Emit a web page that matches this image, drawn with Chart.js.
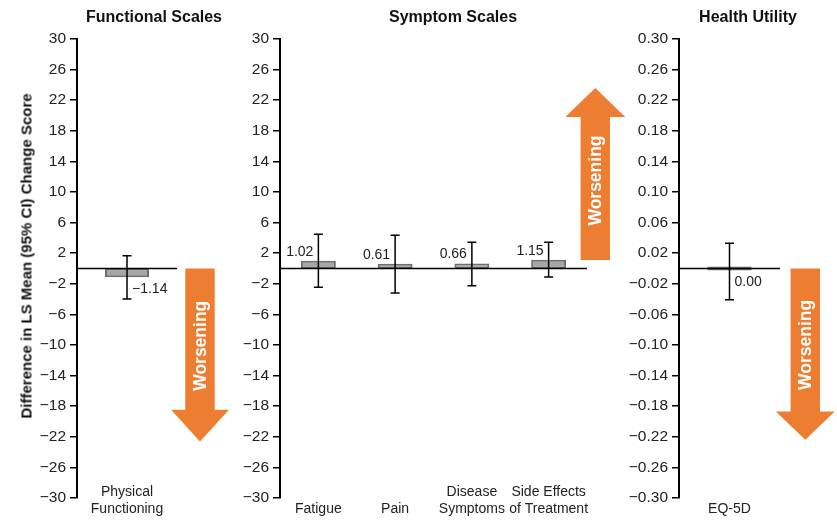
<!DOCTYPE html>
<html>
<head>
<meta charset="utf-8">
<script src="https://cdn.jsdelivr.net/npm/chart.js@4/dist/chart.umd.min.js"></script>
<style>
  html, body { margin: 0; padding: 0; background: #fff; }
  #wrap { position: relative; width: 837px; height: 521px; overflow: hidden;
          font-family: "Liberation Sans", Arial, sans-serif; color: #111; }
  #wrap canvas { position: absolute; top: 0; }
  .panel-title { position: absolute; top: 7px; line-height: 20px; font-size: 16px; font-weight: bold;
                 white-space: nowrap; transform: translateX(-50%); }
  .y-title { position: absolute; left: 26px; top: 256px; font-size: 15px; font-weight: bold;
             white-space: nowrap; transform: translate(-50%, -50%) rotate(-90deg); }
</style>
</head>
<body>
<div id="wrap">
  <canvas id="functional" width="237" height="521" style="left:0px"></canvas>
  <canvas id="symptom" width="396" height="521" style="left:232px"></canvas>
  <canvas id="utility" width="215" height="521" style="left:622px"></canvas>
  <div class="panel-title" style="left:154px">Functional Scales</div>
  <div class="panel-title" style="left:453px">Symptom Scales</div>
  <div class="panel-title" style="left:748px">Health Utility</div>
  <div class="y-title">Difference in LS Mean (95% CI) Change Score</div>
</div>
<script>
// Functional scales
const functionalLabels = [['Physical', 'Functioning']];
const functionalValues = [-1.14];
const functionalLower = [-3.98];
const functionalUpper = [1.67];

// Symptom scales
const symptomLabels = [['', 'Fatigue'], ['', 'Pain'], ['Disease', 'Symptoms'], ['Side Effects', 'of Treatment']];
const symptomValues = [1.02, 0.61, 0.66, 1.15];
const symptomLower = [-2.46, -3.20, -2.25, -1.11];
const symptomUpper = [4.47, 4.34, 3.42, 3.42];

// Health utility
const utilityLabels = [['', 'EQ-5D']];
const utilityValues = [0.00];
const utilityLower = [-0.041];
const utilityUpper = [0.033];

// Axis ticks
const scoreTicks = [30, 26, 22, 18, 14, 10, 6, 2, -2, -6, -10, -14, -18, -22, -26, -30];
const utilityTicks = [0.30, 0.26, 0.22, 0.18, 0.14, 0.10, 0.06, 0.02, -0.02, -0.06, -0.10, -0.14, -0.18, -0.22, -0.26, -0.30];

const FONT = '"Liberation Sans", Arial, sans-serif';
const ORANGE = '#ED7D31';

function fmt(v, d) {
  const s = Math.abs(v).toFixed(d);
  return (v < 0 && Number(s) !== 0 ? '\u2212' : '') + s;
}

// Error bars, zero line, value labels and the "Worsening" arrow
const decorations = {
  id: 'decorations',
  afterDatasetsDraw(chart, args, opts) {
    const p = opts.panel;
    const { ctx, chartArea: a } = chart;
    const y = chart.scales.y;
    ctx.save();

    const y0 = y.getPixelForValue(0);
    ctx.strokeStyle = '#000';
    ctx.lineWidth = 1.5;
    ctx.beginPath();
    ctx.moveTo(a.left, y0);
    ctx.lineTo(a.right, y0);
    ctx.stroke();

    const meta = chart.getDatasetMeta(0);
    meta.data.forEach((bar, i) => {
      const cx = bar.x;
      const yl = y.getPixelForValue(p.lower[i]);
      const yu = y.getPixelForValue(p.upper[i]);
      ctx.strokeStyle = '#000';
      ctx.lineWidth = 1.5;
      ctx.beginPath();
      ctx.moveTo(cx, yu); ctx.lineTo(cx, yl);
      ctx.moveTo(cx - 4.5, yu); ctx.lineTo(cx + 4.5, yu);
      ctx.moveTo(cx - 4.5, yl); ctx.lineTo(cx + 4.5, yl);
      ctx.stroke();

      ctx.fillStyle = '#222';
      ctx.font = '14px ' + FONT;
      ctx.textBaseline = 'middle';
      const txt = fmt(p.values[i], 2);
      if (p.valueLabel === 'below') {
        ctx.textAlign = 'left';
        ctx.fillText(txt, cx + 5, Math.max(bar.y, bar.base) + 12);
      } else {
        ctx.textAlign = 'right';
        ctx.fillText(txt, cx - 5, Math.min(bar.y, bar.base) - 9);
      }
    });

    const ar = p.arrow;
    const ax = a.right + ar.offset;
    const ys = y.getPixelForValue(ar.start);
    const yb = y.getPixelForValue(ar.headBase);
    const yt = y.getPixelForValue(ar.tip);
    ctx.fillStyle = ORANGE;
    ctx.beginPath();
    ctx.moveTo(ax - ar.shaft, ys);
    ctx.lineTo(ax - ar.shaft, yb);
    ctx.lineTo(ax - ar.head, yb);
    ctx.lineTo(ax, yt);
    ctx.lineTo(ax + ar.head, yb);
    ctx.lineTo(ax + ar.shaft, yb);
    ctx.lineTo(ax + ar.shaft, ys);
    ctx.closePath();
    ctx.fill();

    ctx.translate(ax, y.getPixelForValue(ar.text));
    ctx.rotate(-Math.PI / 2);
    ctx.fillStyle = '#fff';
    ctx.font = 'bold 17.5px ' + FONT;
    ctx.textAlign = 'center';
    ctx.textBaseline = 'middle';
    ctx.fillText('Worsening', 0, 1);
    ctx.restore();
  }
};

function makePanel(canvasId, p) {
  new Chart(document.getElementById(canvasId), {
    type: 'bar',
    data: {
      labels: p.labels,
      datasets: [{
        data: p.values,
        backgroundColor: '#A6A6A6',
        borderColor: '#6E6E6E',
        borderWidth: 2,
        borderSkipped: false,
        minBarLength: p.minBar || 0,
        barPercentage: p.barPct,
        categoryPercentage: 1
      }]
    },
    options: {
      responsive: false,
      animation: false,
      devicePixelRatio: 1,
      layout: { padding: { top: 39, bottom: 0, left: 0, right: p.padRight } },
      plugins: {
        legend: { display: false },
        tooltip: { enabled: false },
        decorations: { panel: p }
      },
      scales: {
        x: {
          afterFit(scale) { scale.height = 23; },
          grid: { display: false, drawTicks: false },
          border: { display: false },
          // mirrored labels are not clipped to the axis box, so the first line can rise beside the y axis
          ticks: { color: '#222', font: { family: FONT, size: 14 }, mirror: true, padding: -3, maxRotation: 0, autoSkip: false }
        },
        y: {
          min: p.min, max: p.max,
          afterBuildTicks(scale) { scale.ticks = p.ticks.map(v => ({ value: v })); },
          afterFit(scale) { scale.width = p.yWidth; },
          grid: { display: true, drawOnChartArea: false, drawTicks: true, tickLength: 7, color: '#000', lineWidth: 1.5 },
          border: { display: true, color: '#000', width: 2 },
          ticks: {
            autoSkip: false, padding: 4, color: '#222',
            font: { family: FONT, size: 15.5 },
            callback: v => fmt(v, p.decimals)
          }
        }
      }
    },
    plugins: [decorations]
  });
}

makePanel('functional', {
  labels: functionalLabels, values: functionalValues, lower: functionalLower, upper: functionalUpper,
  ticks: scoreTicks, min: -30, max: 30, decimals: 0, yWidth: 77, padRight: 60, barPct: 0.44,
  valueLabel: 'below',
  arrow: { offset: 23, shaft: 14.7, head: 29, start: 0, headBase: -18.45, tip: -22.6, text: -10.1 }
});

makePanel('symptom', {
  labels: symptomLabels, values: symptomValues, lower: symptomLower, upper: symptomUpper,
  ticks: scoreTicks, min: -30, max: 30, decimals: 0, yWidth: 48, padRight: 41, barPct: 0.455,
  valueLabel: 'above',
  arrow: { offset: 8.3, shaft: 14.7, head: 30, start: 1.1, headBase: 19.8, tip: 23.6, text: 11.5 }
});

makePanel('utility', {
  labels: utilityLabels, values: utilityValues, lower: utilityLower, upper: utilityUpper,
  ticks: utilityTicks, min: -0.30, max: 0.30, decimals: 2, yWidth: 57, padRight: 57, barPct: 0.44,
  valueLabel: 'below', minBar: 4,
  arrow: { offset: 25.3, shaft: 14.7, head: 29.5, start: 0, headBase: -0.187, tip: -0.224, text: -0.0998 }
});
</script>
</body>
</html>
